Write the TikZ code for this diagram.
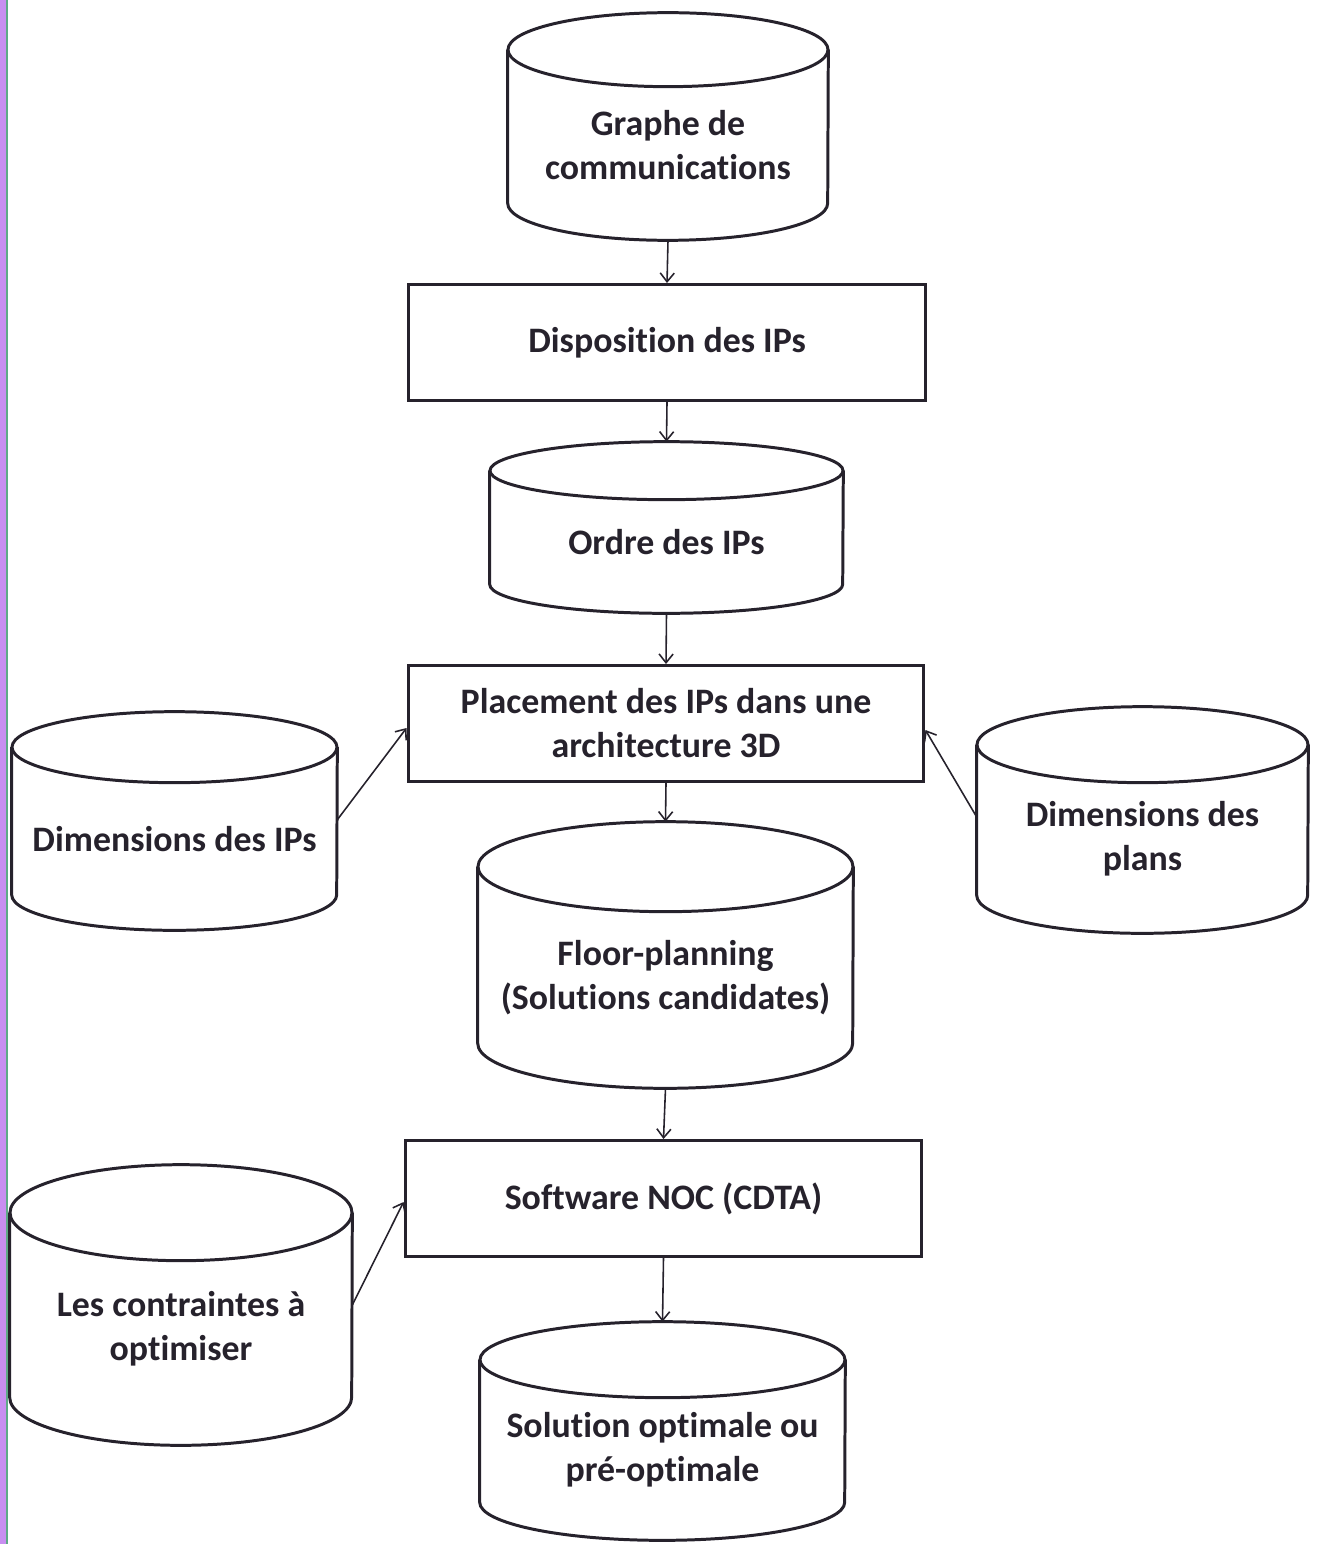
\documentclass[tikz,border=0pt]{standalone}
\usepackage{fontspec}
\setmainfont{Carlito}[Ligatures=NoCommon]
\usetikzlibrary{arrows.meta,calc}
\definecolor{ink}{HTML}{26222C}
\definecolor{scanviolet}{HTML}{C88EF0}
\definecolor{scangreen}{HTML}{5FA987}
% drum outline round a named node: #1 name, #2 x radius, #3 y radius of the ends
\newcommand\drawdrum[3]{%
	\draw[drumline] (#1.north) ellipse ({#2} and {#3});
	\draw[drumline] (#1.north west) -- ($(#1.south west)+(0,#3)$) arc (180:360:{#2} and {#3}) -- (#1.north east);
	\coordinate (#1-top) at ($(#1.north)+(0,#3)$);
}
\begin{document}
\begin{tikzpicture}[x=0.02cm,y=0.02cm]
	\tikzstyle{label} = [text=ink, align=center, font=\fontsize{20.4}{25}\selectfont\bfseries]
	\tikzstyle{drum} = [label, rectangle, draw=none, inner sep=0pt]
	\tikzstyle{drumline} = [draw=ink, line width=1.7pt]
	\tikzstyle{block} = [label, rectangle, draw=ink, line width=1.7pt, inner sep=0pt, minimum height=2.32cm]
	\tikzstyle{arrow} = [draw=ink, line width=0.9pt, -{Straight Barb[length=5pt,width=8pt]}]
	\useasboundingbox (0,-1544) rectangle (1316,0);
	% scan border on the left
	\fill[scanviolet] (0,-1544) rectangle (5.5,0);
	\fill[scangreen] (6.3,-1544) rectangle (8,0);

	\node [drum, minimum width=6.4cm, minimum height=3.8cm] (graphe) at (668,-145) {Graphe de\\communications};
	\node [block, minimum width=10.36cm] (dispo) at (667,-342.5) {Disposition des IPs};
	\node [drum, minimum width=7.06cm, minimum height=2.84cm] (ordre) at (666.5,-542) {Ordre des IPs};
	\node [block, minimum width=10.32cm] (place) at (666,-723.5) {Placement des IPs dans une\\architecture 3D};
	\node [drum, minimum width=6.5cm, minimum height=3.65cm] (dimip) at (174.5,-838.75) {Dimensions des IPs};
	\node [drum, minimum width=6.62cm, minimum height=3.76cm] (dimplan) at (1142.5,-839) {Dimensions des\\plans};
	\node [drum, minimum width=7.5cm, minimum height=4.42cm] (floor) at (665.5,-977.5) {Floor-planning\\(Solutions candidates)};
	\node [block, minimum width=10.34cm] (noc) at (663.5,-1198.5) {Software NOC (CDTA)};
	\node [drum, minimum width=6.84cm, minimum height=4.64cm] (contr) at (181,-1329) {Les contraintes à\\optimiser};
	\node [drum, minimum width=7.3cm, minimum height=3.6cm] (sol) at (662.5,-1450) {Solution optimale ou\\pré-optimale};

	\drawdrum{graphe}{160}{37}
	\drawdrum{ordre}{176.5}{29}
	\drawdrum{dimip}{162.5}{35.5}
	\drawdrum{dimplan}{165.5}{38}
	\drawdrum{floor}{187.5}{45}
	\drawdrum{contr}{171}{48}
	\drawdrum{sol}{182.5}{38}

	\path (graphe.south) edge[arrow] (dispo.north);
	\path (dispo.south) edge[arrow] (ordre-top);
	\path (ordre.south) edge[arrow] (place.north);
	\path (place.south) edge[arrow] (floor-top);
	\path (floor.south) edge[arrow] (noc.north);
	\path (noc.south) edge[arrow] (sol-top);
	\path ([yshift=0.38cm]dimip.east) edge[arrow] ([yshift=-0.09cm]place.west);
	\path ([yshift=0.44cm]dimplan.west) edge[arrow] ([yshift=-0.13cm]place.east);
	\path ([yshift=0.48cm]contr.east) edge[arrow] ([yshift=-0.07cm]noc.west);
\end{tikzpicture}
\end{document}
